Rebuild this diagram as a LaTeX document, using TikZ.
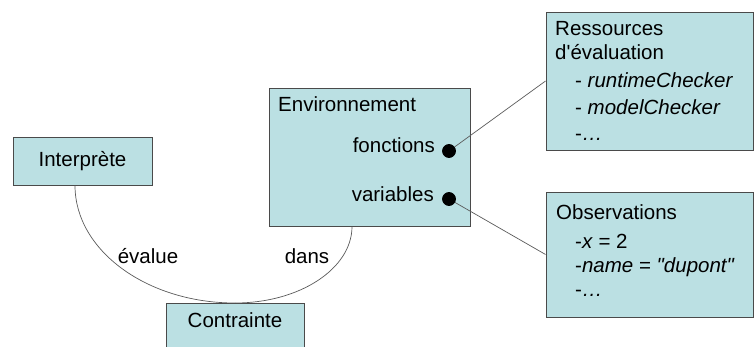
\documentclass[tikz,border=0pt]{standalone}
\usepackage{fontspec}
\setmainfont{Liberation Sans}
\definecolor{boxfill}{HTML}{BBE0E3}
\definecolor{boxline}{HTML}{4A4A4A}
\definecolor{linkgray}{HTML}{5A5A5A}
\tikzset{
  cbox/.style={draw=boxline, fill=boxfill, line width=0.9pt, inner sep=0pt},
  txt/.style={inner sep=0pt, font=\fontsize{20.5}{24}\selectfont},
  dot/.style={circle, fill=black, draw=black, line width=0.8pt, minimum size=13pt, inner sep=0pt},
  link/.style={draw=linkgray, line width=0.7pt}
}
\begin{document}
\begin{tikzpicture}[x=1pt,y=-1pt]
\useasboundingbox (0,0) rectangle (754,347);
\clip (0,0) rectangle (754,347);
% boxes
\node[cbox, txt, minimum width=139pt, minimum height=48pt] (interp) at (82.5,161) {Interprète};
\node[cbox, minimum width=138pt, minimum height=60pt, anchor=north] (contr) at (235,303) {};
\node[txt, anchor=base] (contrtxt) at (235,327) {Contrainte};
\node[cbox, minimum width=201pt, minimum height=138pt] (env) at (369.5,157) {};
\node[cbox, minimum width=207pt, minimum height=138pt] (ress) at (649.5,81) {};
\node[cbox, minimum width=207pt, minimum height=125pt] (obs) at (649.5,254.5) {};
% environnement
\node[txt, anchor=base west] (envtitle) at (278,112) {Environnement};
\node[txt, anchor=base east] (fct) at (435,153) {fonctions};
\node[txt, anchor=base east] (var) at (434,202) {variables};
\node[dot] (dotf) at (449,151) {};
\node[dot] (dotv) at (449,199) {};
% ressources d'evaluation
\node[txt, anchor=base west] (resst1) at (555,36) {Ressources};
\node[txt, anchor=base west] (resst2) at (555,60) {d\textquotesingle évaluation};
\node[txt, anchor=base west] (ress1) at (575,88) {- \textit{runtimeChecker}};
\node[txt, anchor=base west] (ress2) at (575,115) {- \textit{modelChecker}};
\node[txt, anchor=base west] (ress3) at (575,141) {-\textit{\ldots}};
% observations
\node[txt, anchor=base west] (obst) at (556,219) {Observations};
\node[txt, anchor=base west] (obs1) at (575,248) {-\textit{x} = 2};
\node[txt, anchor=base west] (obs2) at (575,272) {-\textit{name} = \textit{\textquotedbl dupont\textquotedbl}};
\node[txt, anchor=base west] (obs3) at (575,296) {-\textit{\ldots}};
% connectors
\draw[link] ([xshift=-7.5pt]interp.south) .. controls +(0,65) and +(-88,0) .. (contr.north);
\draw[link] ([xshift=-17.5pt]env.south) .. controls +(0,42) and +(65,0) .. (contr.north);
\node[txt, anchor=base] (evalue) at (148,263) {évalue};
\node[txt, anchor=base] (dans) at (307,263) {dans};
\draw[link] (dotf) -- (ress.west);
\draw[link] (dotv) -- (obs.west);
\end{tikzpicture}
\end{document}
